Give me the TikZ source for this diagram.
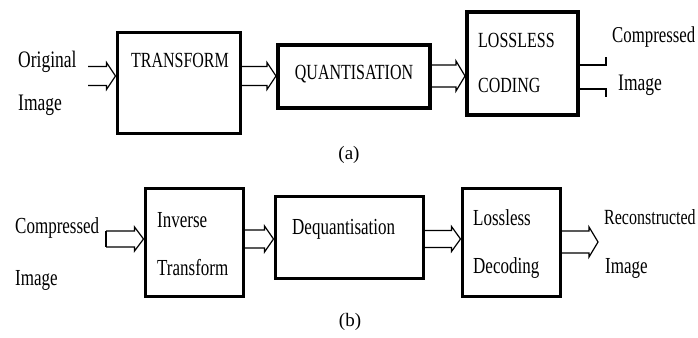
\documentclass[tikz,border=0pt]{standalone}
\usepackage{fontspec}
\usepackage{graphicx}
\setmainfont{Liberation Serif}
\usetikzlibrary{positioning, calc}

% two-line block arrow with an open chevron head
\newcommand{\blockarrow}[4][]{%
  \draw[shaft,#1] let \p1=(#2), \p2=(#3) in
    (\x1,\y1+#4) -- (\x2-9pt,\y1+#4) -- (\x2-9pt,\y1+#4+4pt) -- (\x2,\y1)
    -- (\x2-9pt,\y1-#4-4pt) -- (\x2-9pt,\y1-#4) -- (\x1,\y1-#4);}
% the labels are drawn stretched upwards
\newcommand{\tall}[1]{\scalebox{1}[1.35]{#1}}

\begin{document}
\begin{tikzpicture}[
        x=1pt, y=-1pt,
        stage/.style={draw=black, line width=3pt, inner sep=0pt},
        lbl/.style={inner sep=0pt, anchor=west, font=\fontsize{17.5}{19}\selectfont},
        caps/.style={inner sep=0pt, anchor=west, font=\fontsize{16}{18}\selectfont},
        lblb/.style={inner sep=0pt, anchor=west, font=\fontsize{17}{19}\selectfont},
        caption/.style={inner sep=0pt, font=\fontsize{19}{21}\selectfont},
        shaft/.style={draw=black, line width=1.2pt, line join=miter}
      ]
        \useasboundingbox (0,0) rectangle (698,337);

        % (a) compression
        \node[stage, minimum width=123pt, minimum height=100pt] (trans) at (178.5,83) {};
        \node[stage, line width=4pt, minimum width=152pt, minimum height=63pt] (quant) at (354,76.5) {};
        \node[stage, line width=4pt, minimum width=111pt, minimum height=103pt] (lossc) at (522.5,63.5) {};

        \node[lbl] (orig) at (18,62) {\tall{Original}};
        \node[lbl] (origim) at (18,105) {\tall{Image}};
        \node[caps, anchor=center] (translbl) at (180,60) {\tall{TRANSFORM}};
        \node[caps, anchor=center] (quantlbl) at (354,74) {\tall{QUANTISATION}};
        \node[caps] (losslbl) at (478,40) {\tall{LOSSLESS}};
        \node[caps] (codlbl) at (478,85) {\tall{CODING}};
        \node[lbl, font=\fontsize{16.8}{19}\selectfont] (comp) at (612,37) {\tall{Compressed}};
        \node[lbl] (compim) at (618,85) {\tall{Image}};
        \node[caption] (capa) at (349,155) {(a)};

        \coordinate (inA) at (88,76);
        \coordinate (outA) at (606,77);
        \blockarrow{inA}{trans.west |- inA}{9.5pt}
        \blockarrow{trans.east |- inA}{quant.west |- inA}{9.5pt}
        \blockarrow{quant.east |- inA}{lossc.west |- inA}{11pt}
        \draw[shaft] let \p1=(lossc.east |- outA), \p2=(outA) in
          (\x1,\y1+12pt) -- (\x2,\y1+12pt) -- (\x2,\y1+20pt)
          (\x1,\y1-12pt) -- (\x2,\y1-12pt) -- (\x2,\y1-20pt);

        % (b) decompression
        \node[stage, minimum width=98pt, minimum height=108pt] (invt) at (194,242) {};
        \node[stage, minimum width=148pt, minimum height=82pt] (dequ) at (349,237) {};
        \node[stage, minimum width=98pt, minimum height=108pt] (lossd) at (511,242) {};

        \node[lblb] (compb) at (15,228) {\tall{Compressed}};
        \node[lblb] (compbim) at (15,280) {\tall{Image}};
        \node[lblb] (invlbl) at (157,220) {\tall{Inverse}};
        \node[lblb] (tflbl) at (157,268) {\tall{Transform}};
        \node[lblb] (dequlbl) at (292,229) {\tall{Dequantisation}};
        \node[lblb] (lossdlbl) at (473,218) {\tall{Lossless}};
        \node[lblb] (declbl) at (473,268) {\tall{Decoding}};
        \node[lblb, font=\fontsize{16}{19}\selectfont] (recon) at (604,217) {\tall{Reconstructed}};
        \node[lblb] (reconim) at (605,268) {\tall{Image}};
        \node[caption] (capb) at (350,322) {(b)};

        \coordinate (inB) at (106,239);
        \coordinate (outB) at (598,242);
        \blockarrow{inB}{invt.west |- inB}{8pt}
        \draw[shaft] let \p1=(inB) in (\x1,\y1+8pt) -- (\x1,\y1-8pt);
        \blockarrow{invt.east |- inB}{dequ.west |- inB}{9pt}
        \blockarrow{dequ.east |- inB}{lossd.west |- inB}{8.5pt}
        \blockarrow{lossd.east |- outB}{outB}{11pt}
      \end{tikzpicture}
\end{document}
